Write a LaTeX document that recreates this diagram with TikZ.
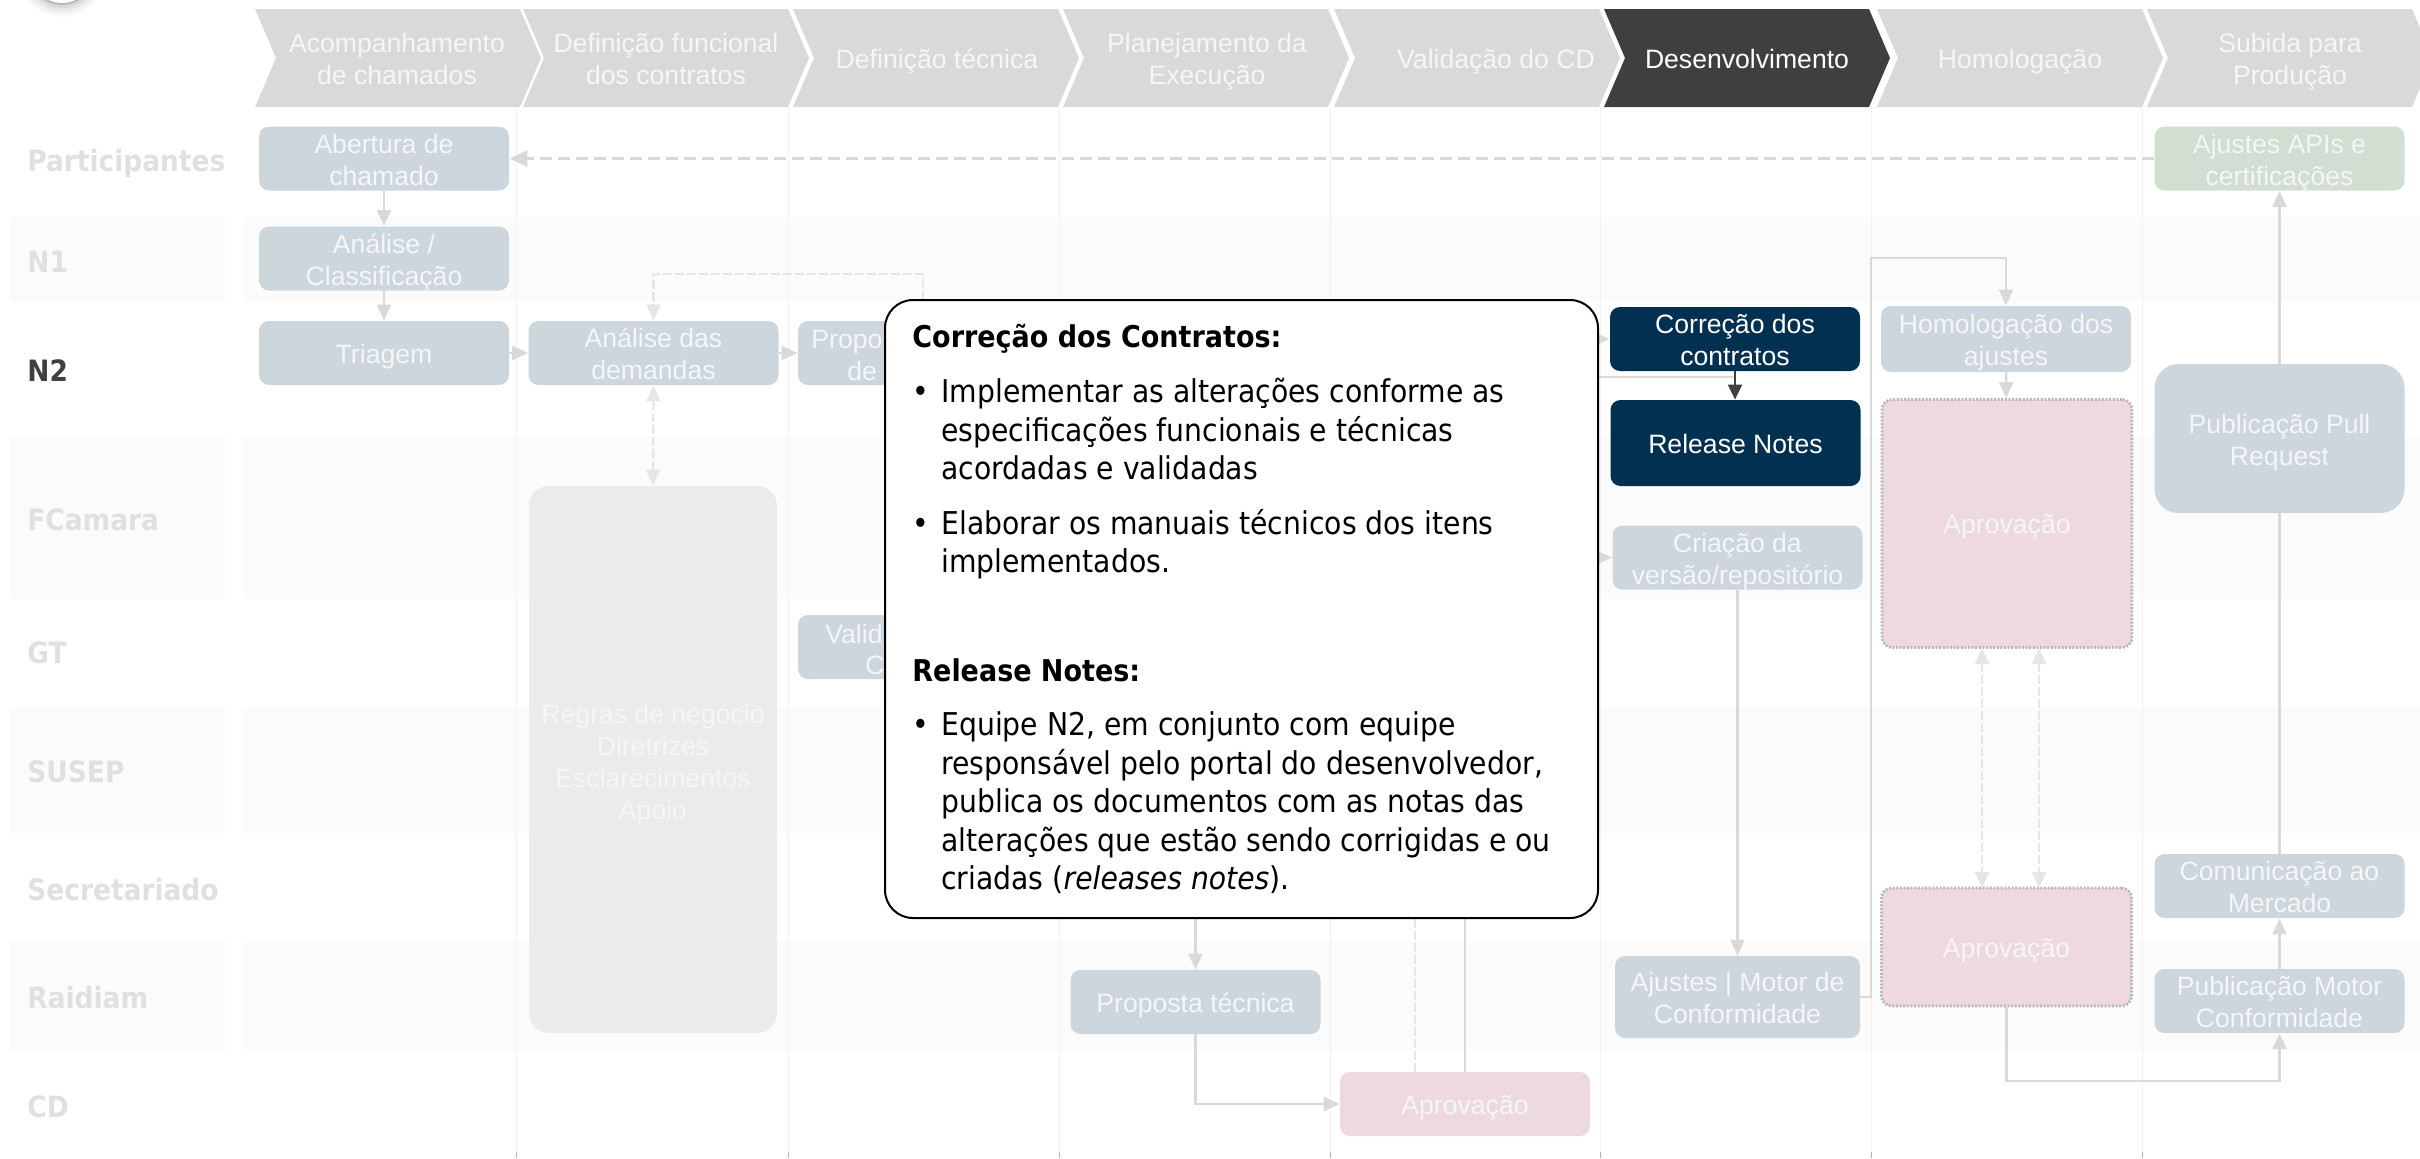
\documentclass[tikz,border=0pt]{standalone}
\usepackage{fontspec}
\setmainfont{Liberation Sans}
\newfontfamily\callfont{DejaVu Sans Condensed}
\usetikzlibrary{arrows.meta,calc,positioning}
\pgfdeclarelayer{bands}
\pgfdeclarelayer{conn}
\pgfdeclarelayer{over}
\pgfsetlayers{bands,conn,main,over}
\definecolor{bandc}{HTML}{FBFBFB}
\definecolor{sepc}{HTML}{F2F2F2}
\definecolor{chevc}{HTML}{D9D9D9}
\definecolor{chevd}{HTML}{3F3F3F}
\definecolor{procc}{HTML}{CDD5DD}
\definecolor{greenc}{HTML}{D2DED2}
\definecolor{pinkc}{HTML}{EDD9DE}
\definecolor{navy}{HTML}{023050}
\definecolor{softtxt}{HTML}{F4F6F8}
\definecolor{linec}{HTML}{D9D9D9}
\definecolor{dashc}{HTML}{E6E6E6}
\definecolor{lanec}{HTML}{E0E0E0}
\tikzset{
  x=.5pt,y=-.5pt,
  boxtxt/.style={font=\fontsize{13.3}{16}\selectfont,align=center,text=softtxt,inner sep=0pt,
    execute at begin node={\rule{0pt}{13.4pt}},execute at end node={\rule[-3pt]{0pt}{3pt}}},
  procbox/.style={boxtxt,fill=procc,rounded corners=5pt,minimum width=125pt,minimum height=32pt},
  greenbox/.style={procbox,fill=greenc},
  navybox/.style={procbox,fill=navy,text=white},
  pinkbox/.style={procbox,fill=pinkc},
  approvebox/.style={procbox,fill=pinkc,draw=black!28,line width=1.4pt,dash pattern=on 1pt off .8pt},
  infobox/.style={procbox,fill=black!8,rounded corners=10pt},
  flow/.style={draw=linec,line width=1.1pt,-{Triangle[width=7pt,length=8pt,fill=linec]}},
  plain/.style={draw=linec,line width=1.1pt},
  topdash/.style={draw=linec,line width=1.2pt,dash pattern=on 6pt off 3pt,-{Triangle[width=8pt,length=9pt,fill=linec]}},
  dflow/.style={draw=dashc,line width=1.1pt,dash pattern=on 4.5pt off 1.5pt,-{Triangle[width=7pt,length=8pt,fill=dashc]}},
  dplain/.style={draw=dashc,line width=1.1pt,dash pattern=on 4.5pt off 1.5pt},
  dboth/.style={dflow,{Triangle[width=7pt,length=8pt,fill=dashc]}-{Triangle[width=7pt,length=8pt,fill=dashc]}},
  lanelabel/.style={font=\callfont\bfseries\fontsize{14.7}{18}\selectfont,text=lanec,anchor=west,inner sep=0pt},
  chevtxt/.style={boxtxt},
  calltxt/.style={font=\callfont\fontsize{15.7}{18}\selectfont,anchor=base west,inner sep=0pt,text=black},
  callhead/.style={font=\callfont\bfseries\fontsize{15}{18}\selectfont,anchor=base west,inner sep=0pt,text=black},
}
\newcommand{\chevron}[2]{\fill[#2] (#1,9) -- ({#1+265},9) -- ({#1+286},58) -- ({#1+265},107) -- (#1,107) -- ({#1+21},58) -- cycle;}
\newcommand{\stacked}[1]{\raisebox{-2.1pt}[\height][\depth]{\begin{tabular}{@{}c@{}}#1\end{tabular}}}
\begin{document}
\begin{tikzpicture}
\useasboundingbox (0,0) rectangle (2420,1158);
% lane bands and column separators
\begin{pgfonlayer}{bands}
\foreach \a/\b in {217/302,437/599,707/833,942/1050}{
  \fill[bandc] (10,\a) rectangle (225,\b);
  \fill[bandc] (243,\a) rectangle (2420,\b);
}
\foreach \xx in {516,788,1059,1330,1600,1871,2142}{
  \draw[sepc,line width=.5pt] (\xx,107) -- (\xx,1158);
  \draw[black!30,line width=.5pt] (\xx,1152) -- (\xx,1158);
}
\end{pgfonlayer}
% logo fragment
\begin{scope}
\clip (0,0) rectangle (200,40);
\fill[black!2] (62,-28) circle[radius=45];
\fill[black!5] (62,-28) circle[radius=42];
\fill[black!9] (62,-28) circle[radius=39];
\fill[black!15] (62,-28) circle[radius=36];
\fill[black!28] (62,-28) circle[radius=33];
\fill[white] (62,-28) circle[radius=31];
\end{scope}
% phase chevrons
\chevron{255}{chevc}\chevron{523}{chevc}\chevron{793}{chevc}\chevron{1063}{chevc}
\chevron{1334}{chevc}\chevron{1604}{chevd}\chevron{1877}{chevc}\chevron{2147}{chevc}
\node[chevtxt] (ph1) at (397,58) {\stacked{Acompanhamento\\de chamados}};
\node[chevtxt] (ph2) at (666,58) {\stacked{Definição funcional\\dos contratos}};
\node[chevtxt] (ph3) at (937,58) {Definição técnica};
\node[chevtxt] (ph4) at (1207,58) {\stacked{Planejamento da\\Execução}};
\node[chevtxt] (ph5) at (1496,58) {Validação do CD};
\node[chevtxt,text=white] (ph6) at (1747,58) {Desenvolvimento};
\node[chevtxt] (ph7) at (2020,58) {Homologação};
\node[chevtxt] (ph8) at (2290,58) {\stacked{Subida para\\Produção}};
% lane labels
\node[lanelabel] (l1) at (27,163) {Participantes};
\node[lanelabel] (l2) at (27,262) {N1};
\node[lanelabel,text=chevd] (l3) at (27,371) {N2};
\node[lanelabel] (l4) at (27,520) {FCamara};
\node[lanelabel] (l5) at (27,653) {GT};
\node[lanelabel] (l6) at (27,772) {SUSEP};
\node[lanelabel] (l7) at (27,890) {Secretariado};
\node[lanelabel] (l8) at (27,998) {Raidiam};
\node[lanelabel] (l9) at (27,1107) {CD};
% callout on top
\begin{pgfonlayer}{over}
\node[draw=black,line width=1pt,fill=white,rounded corners=14pt,minimum width=356.5pt,minimum height=309pt,inner sep=0pt] (callout) at (1241.5,609) {};
\node[callhead] (c1) at (912,347) {Correção dos Contratos:};
\node[calltxt] (b1) at (912,402) {•};
\node[calltxt] (c2) at (941,402) {Implementar as alterações conforme as};
\node[calltxt] (c3) at (941,441) {especificações funcionais e técnicas};
\node[calltxt] (c4) at (941,479) {acordadas e validadas};
\node[calltxt] (b2) at (912,534) {•};
\node[calltxt] (c5) at (941,534) {Elaborar os manuais técnicos dos itens};
\node[calltxt] (c6) at (941,572.5) {implementados.};
\node[callhead] (c7) at (912,681) {Release Notes:};
\node[calltxt] (b3) at (912,735) {•};
\node[calltxt] (c8) at (941,735) {Equipe N2, em conjunto com equipe};
\node[calltxt] (c9) at (941,774) {responsável pelo portal do desenvolvedor,};
\node[calltxt] (c10) at (941,812) {publica os documentos com as notas das};
\node[calltxt] (c11) at (941,851) {alterações que estão sendo corrigidas e ou};
\node[calltxt] (c12) at (941,889) {criadas (\textit{releases notes}).};
\end{pgfonlayer}
% process nodes
\node[procbox] (abertura) at (384,158.5) {\stacked{Abertura de\\chamado}};
\node[procbox] (classif) at (384,258.5) {\stacked{Análise /\\Classificação}};
\node[procbox] (triagem) at (384,353) {Triagem};
\node[procbox] (demandas) at (653.5,353) {\stacked{Análise das\\demandas}};
\node[procbox] (proposta1) at (923,353) {};
\node[boxtxt,anchor=west] (proposta1a) at (811,338) {Propo};
\node[boxtxt,anchor=west] (proposta1b) at (847,370) {de};
\node[procbox] (valida) at (923,647) {};
\node[boxtxt,anchor=west] (validaa) at (825,633) {Valid};
\node[boxtxt,anchor=west] (validab) at (865,664) {C};
\node[infobox,minimum width=124pt,minimum height=273.5pt] (regras) at (653,759.5) {};
\node[boxtxt] (regrastxt) at (653,761) {\stacked{Regras de negócio\\Diretrizes\\Esclarecimentos\\Apoio}};
\node[greenbox] (apis) at (2279.5,158.5) {\stacked{Ajustes APIs e\\certificações}};
\node[navybox] (correcao) at (1735,339) {\stacked{Correção dos\\contratos}};
\node[navybox,minimum height=43pt] (release) at (1735.5,443) {Release Notes};
\node[procbox] (criacao) at (1737.5,557.5) {\stacked{Criação da\\versão/repositório}};
\node[procbox,minimum height=33pt] (homolog) at (2006,339) {\stacked{Homologação dos\\ajustes}};
\node[approvebox,minimum width=125pt,minimum height=124pt] (aprov1) at (2007,523.5) {Aprovação};
\node[approvebox,minimum height=59pt] (aprov2) at (2006.5,947) {Aprovação};
\node[procbox,rounded corners=12pt,minimum height=74.5pt] (pull) at (2279.5,438.5) {\stacked{Publicação Pull\\Request}};
\node[procbox] (comun) at (2279.5,886) {\stacked{Comunicação ao\\Mercado}};
\node[procbox] (pubmotor) at (2279.5,1001) {\stacked{Publicação Motor\\Conformidade}};
\node[procbox,minimum width=122.5pt,minimum height=41pt] (ajmotor) at (1737.5,997) {\stacked{Ajustes | Motor de\\Conformidade}};
\node[procbox] (ptec) at (1195.5,1002) {Proposta técnica};
\node[pinkbox] (aprov3) at (1465,1104) {Aprovação};
% connectors
\begin{pgfonlayer}{conn}
\draw[flow] (abertura) -- (classif);
\draw[flow] (classif) -- (triagem);
\draw[flow] (triagem) -- (demandas);
\draw[flow] (demandas) -- (proposta1);
\draw[topdash] (apis.west) -- (abertura.east);
\draw[dflow] (proposta1.north |- callout.north) -- (proposta1.north |- 0,274) -- (demandas.north |- 0,274) -- (demandas.north);
\draw[dboth] (demandas.south) -- (regras.north);
\draw[flow] (comun.north) -- (apis.south);
\draw[flow] (pubmotor) -- (comun);
\draw[flow] (homolog) -- (aprov1);
\draw[flow] (callout.east |- correcao.west) -- (correcao.west);
\draw[flow] (callout.east |- criacao.west) -- (criacao.west);
\coordinate (joinc) at (correcao.south |- 0,377);
\draw[plain] (callout.east |- joinc) -- (joinc);
\draw[flow,draw=chevd,-{Triangle[width=7pt,length=7.5pt,fill=chevd]}] (correcao.south) -- (release.north -| correcao.south);
\draw[flow] (criacao.south) -- (ajmotor.north);
\draw[flow] (ajmotor.east) -- (1871,997) -- (1871,258) -- (homolog.north |- 0,258) -- (homolog.north);
\draw[dboth] (1982,648) -- (1982,888);
\draw[dboth] (2039,648) -- (2039,888);
\draw[flow] (aprov2.south) -- (aprov2.south |- 0,1081) -- (pubmotor.south |- 0,1081) -- (pubmotor.south);
\draw[flow] (ptec.north |- callout.south) -- (ptec.north);
\draw[flow] (ptec.south) |- (aprov3.west);
\draw[plain] (aprov3.north) -- (aprov3.north |- callout.south);
\draw[dplain] (1415,1072) -- (1415,918);
\end{pgfonlayer}
\end{tikzpicture}
\end{document}
